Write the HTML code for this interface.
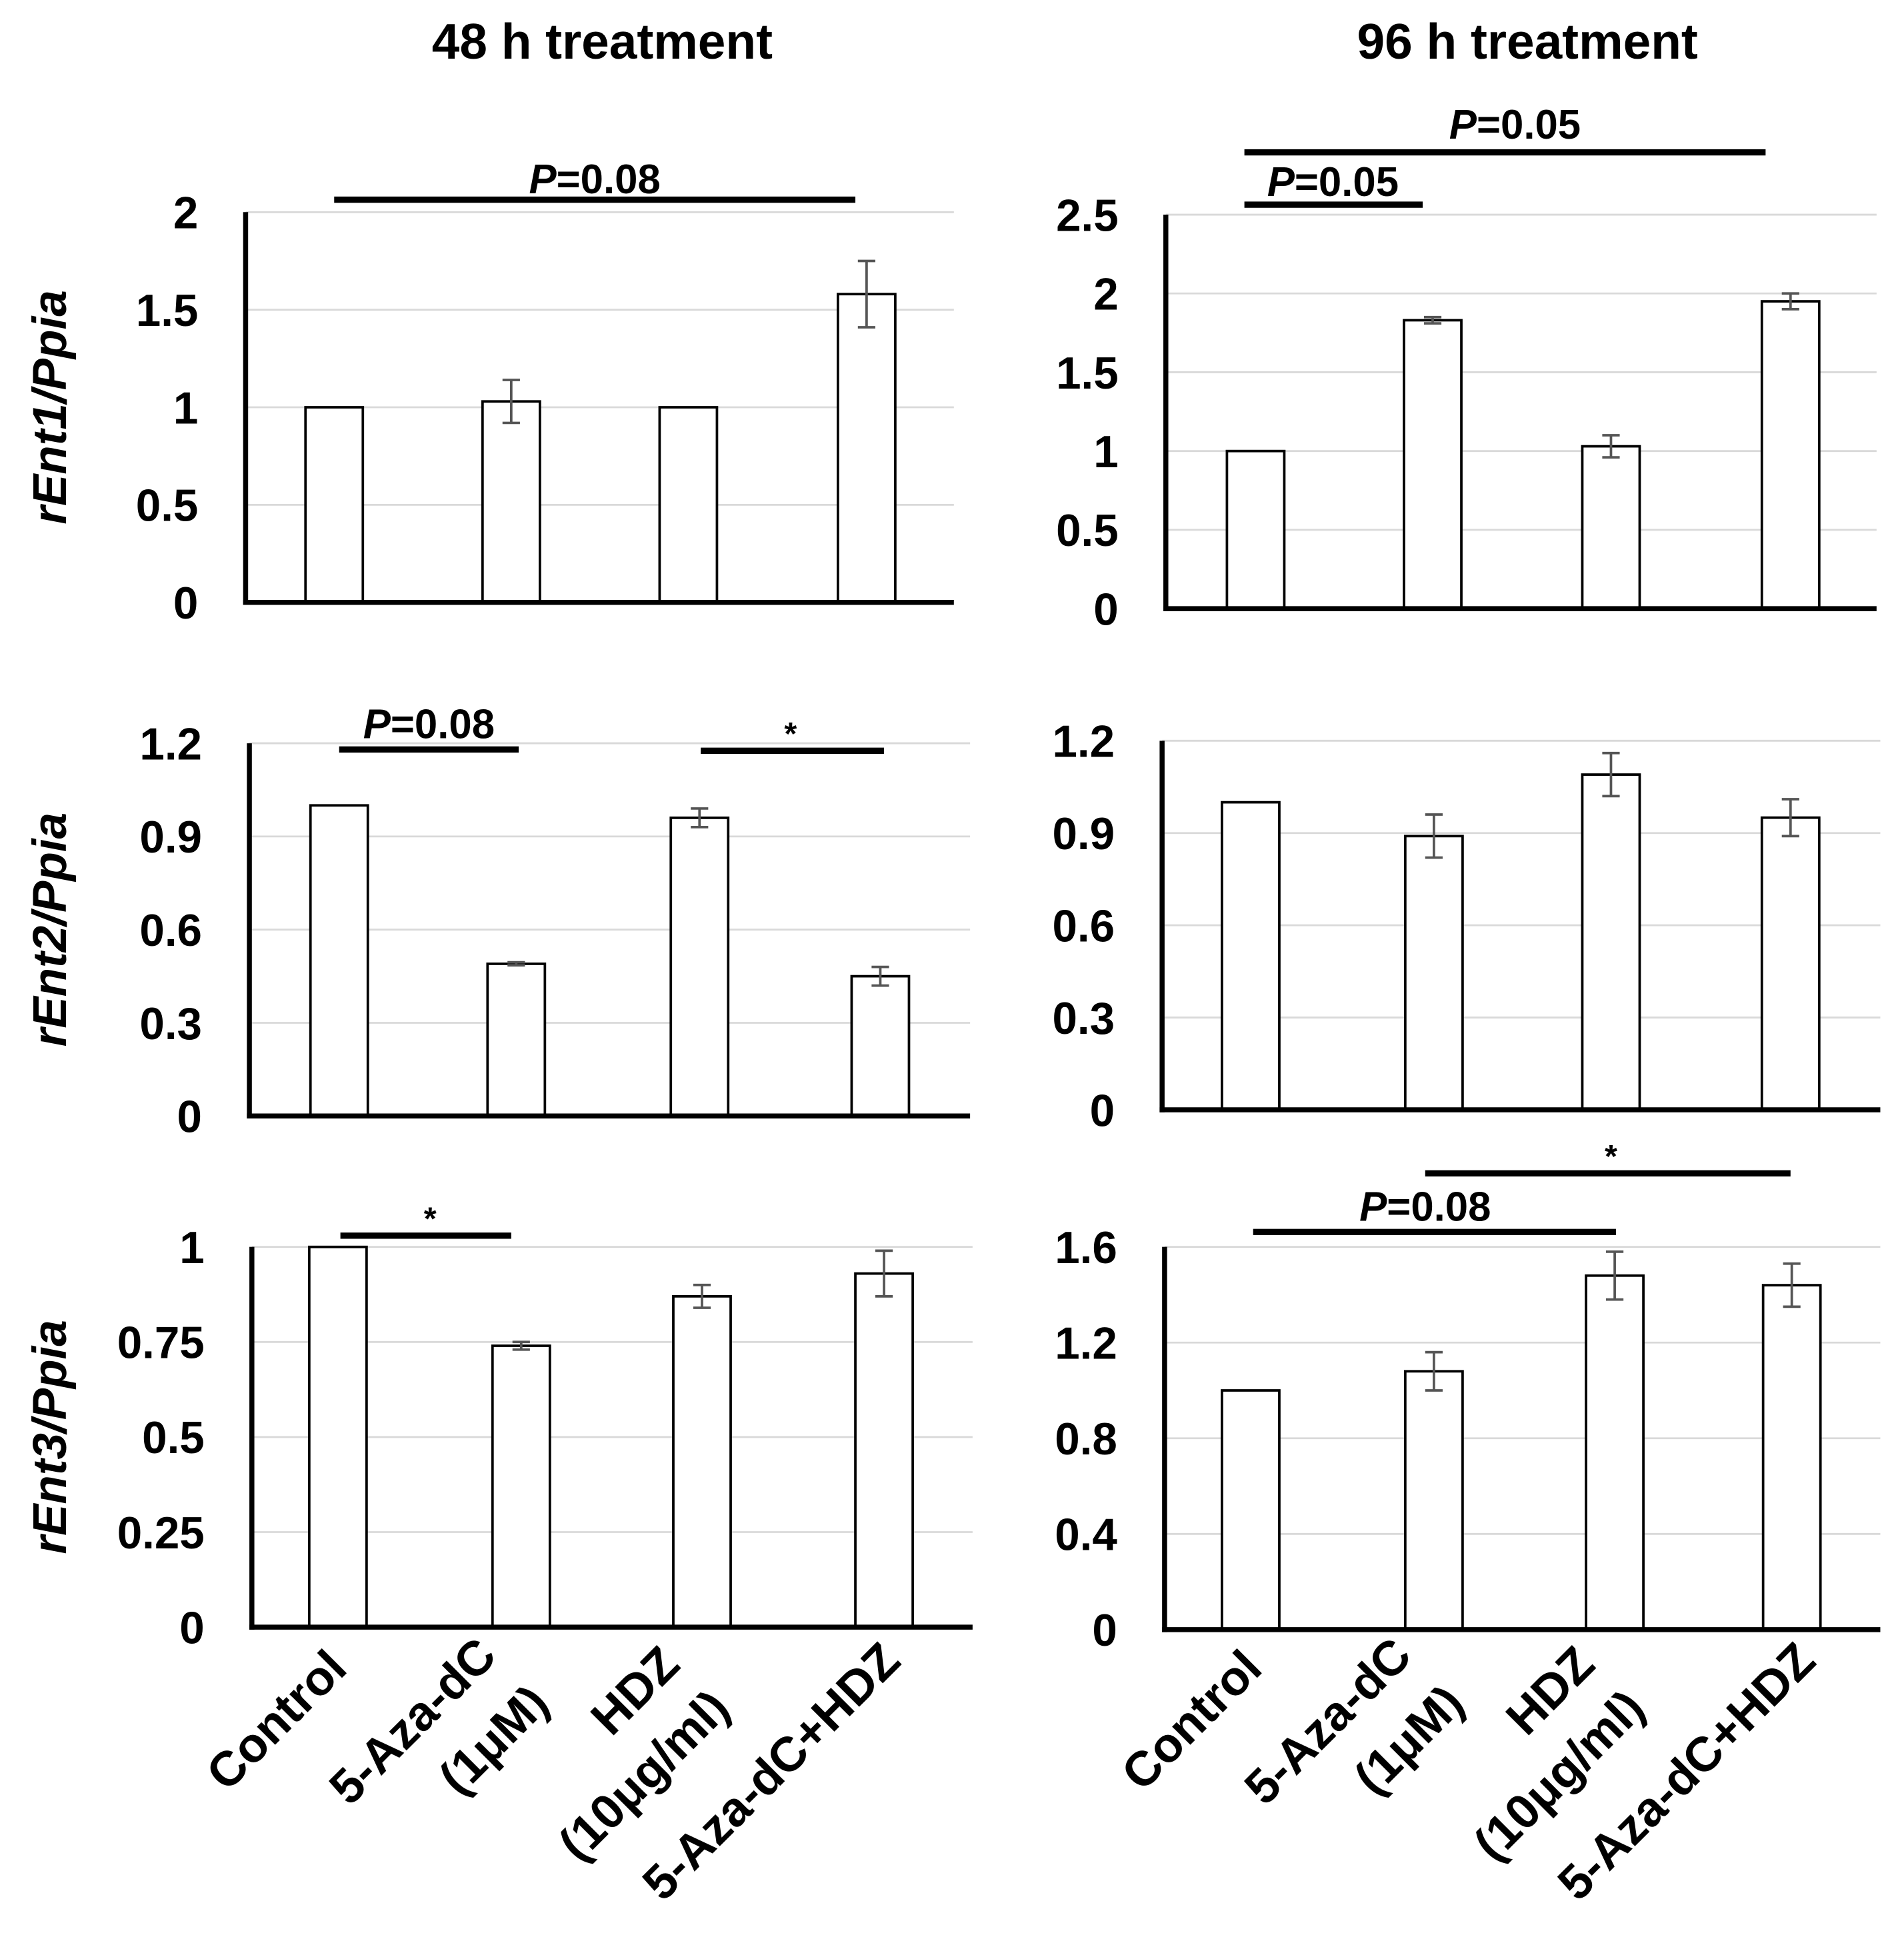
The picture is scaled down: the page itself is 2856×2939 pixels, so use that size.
<!DOCTYPE html>
<html><head><meta charset="utf-8">
<style>
html,body{margin:0;padding:0;background:#fff;}
svg{display:block;font-family:"Liberation Sans",Arial,sans-serif;}
</style></head>
<body>
<svg id="fig" width="2856" height="2939" viewBox="0 0 1527 1571" xmlns="http://www.w3.org/2000/svg">
<text x="483" y="47" font-size="40" font-weight="bold" text-anchor="middle">48 h treatment</text>
<text x="1225" y="47" font-size="40" font-weight="bold" text-anchor="middle">96 h treatment</text>
</svg>
<script>
const categories = ["Control","5-Aza-dC (1μM)","HDZ (10μg/ml)","5-Aza-dC+HDZ"];
const p1Values = [1.0, 1.03, 1.0, 1.58];
const p1Errors = [0, 0.11, 0, 0.17];
const p1Ticks = [0, 0.5, 1, 1.5, 2];
const p2Values = [1.0, 1.83, 1.03, 1.95];
const p2Errors = [0, 0.02, 0.07, 0.05];
const p2Ticks = [0, 0.5, 1, 1.5, 2, 2.5];
const p3Values = [1.0, 0.49, 0.96, 0.45];
const p3Errors = [0, 0.005, 0.03, 0.03];
const p3Ticks = [0, 0.3, 0.6, 0.9, 1.2];
const p4Values = [1.0, 0.89, 1.09, 0.95];
const p4Errors = [0, 0.07, 0.07, 0.06];
const p4Ticks = [0, 0.3, 0.6, 0.9, 1.2];
const p5Values = [1.0, 0.74, 0.87, 0.93];
const p5Errors = [0, 0.01, 0.03, 0.06];
const p5Ticks = [0, 0.25, 0.5, 0.75, 1];
const p6Values = [1.0, 1.08, 1.48, 1.44];
const p6Errors = [0, 0.08, 0.1, 0.09];
const p6Ticks = [0, 0.4, 0.8, 1.2, 1.6];

const NS="http://www.w3.org/2000/svg";
const svg=document.getElementById('fig');
function mk(tag,attrs,parent){const e=document.createElementNS(NS,tag);for(const k in attrs)e.setAttribute(k,attrs[k]);(parent||svg).appendChild(e);return e;}

const panels=[
 {id:'rent1-48h',vals:p1Values,errs:p1Errors,ticks:p1Ticks,ax:197,x1:765,y0:483,yt:170,cx:[268,410,552,695],ylab:'rEnt1/Ppia',sig:[{y:160,a:268,b:686,t:'P=0.08',ty:155,tx:477}]},
 {id:'rent1-96h',vals:p2Values,errs:p2Errors,ticks:p2Ticks,ax:935,x1:1505,y0:488,yt:172,cx:[1007,1149,1292,1436],sig:[{y:164,a:998,b:1141,t:'P=0.05',ty:157,tx:1069},{y:122,a:998,b:1416,t:'P=0.05',ty:111,tx:1215}]},
 {id:'rent2-48h',vals:p3Values,errs:p3Errors,ticks:p3Ticks,ax:200,x1:778,y0:895,yt:596,cx:[272,414,561,706],ylab:'rEnt2/Ppia',sig:[{y:601,a:272,b:416,t:'P=0.08',ty:592,tx:344},{y:602,a:562,b:709,t:'*',ty:597,tx:634}]},
 {id:'rent2-96h',vals:p4Values,errs:p4Errors,ticks:p4Ticks,ax:932,x1:1508,y0:890,yt:594,cx:[1003,1150,1292,1436],sig:[]},
 {id:'rent3-48h',vals:p5Values,errs:p5Errors,ticks:p5Ticks,ax:202,x1:780,y0:1305,yt:1000,cx:[271,418,563,709],ylab:'rEnt3/Ppia',sig:[{y:991,a:273,b:410,t:'*',ty:986,tx:345}]},
 {id:'rent3-96h',vals:p6Values,errs:p6Errors,ticks:p6Ticks,ax:934,x1:1508,y0:1307,yt:1000,cx:[1003,1150,1295,1437],sig:[{y:988,a:1005,b:1296,t:'P=0.08',ty:979,tx:1143},{y:941,a:1143,b:1436,t:'*',ty:936,tx:1292}]}
];

panels.forEach(p=>{
 const g=mk('g',{});
 
 
 const tmax=p.ticks[p.ticks.length-1];
 const y=v=>p.y0-(v/tmax)*(p.y0-p.yt);
 p.ticks.forEach(t=>{
  if(t>0){const gl=mk('line',{x1:p.ax,x2:p.x1,y1:y(t),y2:y(t),stroke:'#d9d9d9','stroke-width':1.5},g);
   
   }
  const tl=mk('text',{x:p.ax-38,y:y(t)+13,'font-size':36,'font-weight':'bold','text-anchor':'end'},g);
  tl.textContent=String(t);
  
  
 });
 p.vals.forEach((v,i)=>{
  const w=46,c=p.cx[i];
  const r=mk('rect',{x:c-w/2,y:y(v),width:w,height:p.y0-y(v),fill:'#fff',stroke:'#000','stroke-width':2},g);
  
  
  const e=p.errs[i];
  if(e>0){
   const eg=mk('g',{stroke:'#555','stroke-width':2},g);
   
   
   mk('line',{x1:c,x2:c,y1:y(v+e),y2:y(v-e)},eg);
   mk('line',{x1:c-7,x2:c+7,y1:y(v+e),y2:y(v+e)},eg);
   mk('line',{x1:c-7,x2:c+7,y1:y(v-e),y2:y(v-e)},eg);
  }
 });
 const ya=mk('line',{x1:p.ax,x2:p.ax,y1:p.yt,y2:p.y0+2,stroke:'#000','stroke-width':4},g);
 
 
 const xa=mk('line',{x1:p.ax-2,x2:p.x1,y1:p.y0,y2:p.y0,stroke:'#000','stroke-width':4},g);
 
 
 if(p.ylab){
  const cy=(p.y0+p.yt)/2;
  const yl=mk('text',{x:0,y:0,transform:`translate(53,${cy}) rotate(-90)`,'font-size':38,'font-weight':'bold','font-style':'italic','text-anchor':'middle'},g);
  yl.textContent=p.ylab;
  
  
 }
 p.sig.forEach(s=>{
  const l=mk('line',{x1:s.a,x2:s.b,y1:s.y,y2:s.y,stroke:'#000','stroke-width':5},g);
  
  
  const t=mk('text',{x:s.tx,y:s.ty,'font-size':33,'font-weight':'bold','text-anchor':'middle'},g);
  if(s.t==='*'){t.textContent='*';t.setAttribute('font-size','26');}
  else{const ti=mk('tspan',{'font-style':'italic'},t);ti.textContent='P';const t2=mk('tspan',{},t);t2.textContent=s.t.slice(1);}
  
  
 });
});

const xl=[[['Control',280,1340]],[['5-Aza-dC',400,1330],['(1μM)',442,1368]],[['HDZ',547,1337],['(10μg/ml)',587,1372]],[['5-Aza-dC+HDZ',724,1334]]];
[0,734].forEach((off)=>{
 xl.forEach((lines)=>{
  lines.forEach(([txt,x,yy])=>{
   const t=mk('text',{x:0,y:0,transform:`translate(${x+off},${yy}) rotate(-45)`,'font-size':39,'font-weight':'bold','text-anchor':'end'});
   t.textContent=txt;
   
   
  });
 });
});
</script>
</body></html>
